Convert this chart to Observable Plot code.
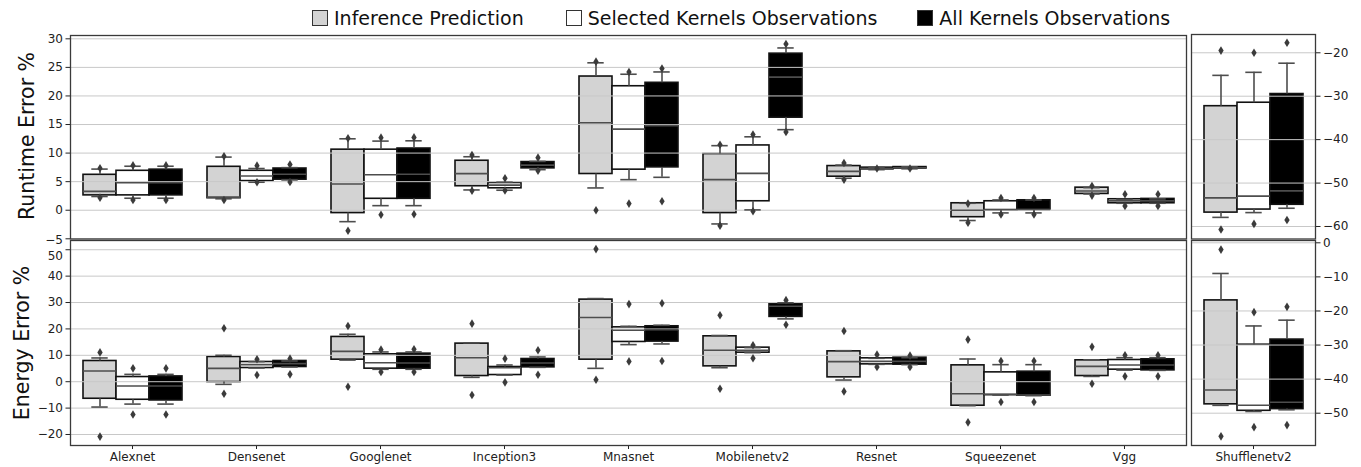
<!DOCTYPE html>
<html><head><meta charset="utf-8">
<script src="https://cdn.jsdelivr.net/npm/d3@7"></script>
<script src="https://cdn.jsdelivr.net/npm/@observablehq/plot@0.6"></script>
<style>
body{margin:0;background:#fff;}
#wrap{position:relative;width:1361px;height:467px;overflow:hidden;font-family:"DejaVu Sans",sans-serif;color:#222;}
.panel{position:absolute;}
.panel svg{display:block;max-width:none;overflow:visible;}
.ylab{position:absolute;font-size:20.5px;white-space:nowrap;transform:translate(-50%,-50%) rotate(-90deg);color:#111;}
#legend{position:absolute;left:312px;top:7px;display:flex;align-items:center;font-size:19px;color:#111;}
#legend .item{display:flex;align-items:center;}
#legend .sw{width:16px;height:16px;border:1px solid #333;box-sizing:border-box;margin-right:6px;}
</style></head>
<body>
<div id="wrap">
  <div id="legend"></div>
  <div class="ylab" style="left:27px;top:136px;">Runtime Error %</div>
  <div class="ylab" style="left:22px;top:343px;">Energy Error %</div>
</div>
<script>
const models = ["Alexnet","Densenet","Googlenet","Inception3","Mnasnet","Mobilenetv2","Resnet","Squeezenet","Vgg"];
const shuffleModel = ["Shufflenetv2"];
const series = ["Inference Prediction","Selected Kernels Observations","All Kernels Observations"];
const seriesColors = ["#d3d3d3","#ffffff","#000000"];

// each row: [whisker low, Q1, median, Q3, whisker high]
const runtimeInference = [[2.4,2.6,3.3,6.2,7.2],[2.0,2.1,2.3,7.6,9.3],[-2.0,-0.5,4.6,10.6,12.5],[3.55,4.2,6.4,8.66,9.36],[3.9,6.34,15.3,23.4,25.8],[-2.4,-0.5,5.35,9.83,11.3],[5.6,5.87,6.8,7.73,7.9],[-1.8,-1.22,0.0,1.22,1.22],[2.85,2.85,3.37,3.95,3.95]];
const runtimeSelected = [[2.1,2.6,4.8,6.9,7.7],[4.9,5.1,6.0,6.9,7.3],[0.8,2.0,6.2,10.6,12.1],[3.5,3.84,4.4,4.77,4.9],[5.35,7.1,14.2,21.7,23.8],[0.06,1.57,6.45,11.34,12.85],[7.1,7.15,7.3,7.45,7.5],[-0.47,0.0,0.12,1.57,1.8],[1.22,1.22,1.63,1.92,1.92]];
const runtimeAll = [[2.1,2.6,4.8,7.1,7.7],[5.3,5.35,6.3,7.3,7.45],[0.8,2.0,6.3,10.8,12.15],[7.1,7.33,7.9,8.43,8.55],[5.76,7.5,14.8,22.3,24.2],[14.1,16.2,23.3,27.4,28.4],[7.25,7.3,7.44,7.55,7.6],[-0.47,0.12,0.12,1.74,1.8],[1.22,1.22,1.63,1.98,1.98]];
const runtimeInferenceFliers = [[7.35,2.2],[9.45,1.8],[12.6,-3.6],[9.65,3.4],[26.0,0.0],[11.45,-2.7],[8.26,5.35],[1.16,-2.2],[4.24,2.56]];
const runtimeSelectedFliers = [[7.85,1.8],[7.8,4.9],[12.7,-0.8],[5.6,3.45],[24.2,1.16],[13.26,-0.17],[7.3],[2.15,-0.76],[2.8,0.76]];
const runtimeAllFliers = [[7.85,1.8],[8.0,4.95],[12.75,-0.7],[9.2,6.9],[24.8,1.57],[29.1,13.7],[7.3],[2.15,-0.76],[2.8,0.76]];

const energyInference = [[-9.6,-6.46,4.05,7.85,9.0],[-1.0,-0.13,5.06,9.37,10.0],[8.2,8.35,11.5,16.96,17.97],[1.65,2.15,9.1,14.43,14.7],[5.06,8.35,24.3,31.1,31.5],[5.3,5.82,11.9,17.2,17.5],[0.63,1.65,7.6,11.5,11.75],[-9.1,-9.1,-4.56,6.2,8.6],[2.0,2.15,5.82,8.1,8.3]];
const energySelected = [[-8.48,-6.84,-1.65,1.77,2.78],[5.19,5.19,6.46,7.47,7.6],[4.7,4.94,7.2,10.38,11.27],[2.53,2.53,5.3,5.57,6.33],[14.05,15.06,19.5,20.6,21.0],[11.0,11.0,11.9,12.9,12.9],[6.58,6.58,7.7,8.86,8.86],[-5.06,-5.06,-4.8,3.54,6.46],[4.4,4.56,6.33,8.23,9.1]];
const energyAll = [[-8.48,-7.1,-1.65,2.0,2.78],[5.57,5.57,6.84,7.85,7.85],[4.7,4.94,7.1,10.63,11.27],[5.44,5.44,7.1,8.6,9.37],[14.3,15.2,19.75,21.0,21.4],[23.8,24.56,28.6,29.4,29.9],[6.46,6.46,7.7,9.1,9.1],[-5.3,-5.3,-5.06,3.8,6.46],[4.3,4.3,6.33,8.48,9.1]];
const energyInferenceFliers = [[11.1,-20.8],[20.25,-4.56],[21.1,-1.9],[22.0,-5.06],[50.25,0.76],[25.2,-2.66],[19.2,-3.67],[15.95,-15.4],[13.2,-0.76]];
const energySelectedFliers = [[5.06,-12.4],[8.48,2.53],[12.15,3.67],[8.73,-0.25],[29.4,7.7],[13.8,8.86],[10.25,5.57],[7.85,-7.7],[10.0,2.03]];
const energyAllFliers = [[5.06,-12.4],[8.73,2.78],[12.3,3.67],[11.9,2.66],[29.75,7.85],[30.9,21.6],[9.87,5.57],[7.85,-7.7],[10.0,2.03]];

// Shufflenetv2 (own axis), one row per series
const shuffleRuntime = [[-57.9,-56.8,-53.4,-32.3,-25.2],[-56.8,-56.1,-53.0,-31.5,-24.5],[-55.8,-55.0,-51.8,-29.5,-22.4]];
const shuffleRuntimeFliers = [[-19.5,-60.7],[-20.0,-59.4],[-17.7,-58.5]];
const shuffleEnergy = [[-47.7,-47.4,-43.2,-16.9,-9.0],[-49.5,-49.3,-47.65,-29.9,-24.4],[-49.0,-48.8,-46.8,-28.4,-22.7]];
const shuffleEnergyFliers = [[-2.0,-56.8],[-20.35,-54.1],[-18.8,-53.5]];

const runtimeTicks = [-5,0,5,10,15,20,25,30];
const energyTicks = [-20,-10,0,10,20,30,40,50];
const shuffleRuntimeTicks = [-60,-50,-40,-30,-20];
const shuffleEnergyTicks = [-50,-40,-30,-20,-10,0];

function buildRows(cats, statsBySeries, fliersBySeries) {
  const rows = [], fl = [];
  series.forEach((s, si) => {
    cats.forEach((m, mi) => {
      const [lo,q1,med,q3,hi] = statsBySeries[si][mi];
      rows.push({model:m, series:s, lo, q1, med, q3, hi});
      (fliersBySeries[si][mi] || []).forEach(v => fl.push({model:m, series:s, v}));
    });
  });
  return {rows, fl};
}

const thinDiamond = {
  draw(ctx, size) {
    const r = Math.sqrt(size / Math.PI);
    const w = r * 0.62;
    ctx.moveTo(0, -r); ctx.lineTo(w, 0); ctx.lineTo(0, r); ctx.lineTo(-w, 0); ctx.closePath();
  }
};

function panel({cats, stats, fliers, yDomain, ticks, anchor, showFx, left, top, width, height, mt, mb, ml, mr, nudge}) {
  const {rows, fl} = buildRows(cats, stats, fliers);
  const wc = "#4d4d4d", lw = 1.6;
  const chart = Plot.plot({
    width, height,
    marginTop: mt, marginBottom: mb, marginLeft: ml, marginRight: mr,
    style: {fontFamily: "DejaVu Sans", fontSize: "12px", background: "transparent", color: "#222"},
    fx: {domain: cats, padding: 0, axis: showFx ? "bottom" : null, label: null, tickSize: 4, tickPadding: 3},
    x: {domain: series, paddingInner: 0, paddingOuter: 0.375, axis: null},
    y: {domain: yDomain, ticks, axis: anchor, label: null, tickSize: 4.5, tickPadding: 3},
    color: {domain: series, range: seriesColors},
    marks: [
      Plot.barY(rows, {fx: "model", x: "series", y1: "q1", y2: "q3", fill: "series", stroke: "#111", strokeWidth: lw}),
      Plot.ruleY(ticks, {stroke: "#c8c8c8", strokeWidth: 1}),
      Plot.ruleX(rows, {fx: "model", x: "series", y1: "q3", y2: "hi", stroke: wc, strokeWidth: lw}),
      Plot.ruleX(rows, {fx: "model", x: "series", y1: "lo", y2: "q1", stroke: wc, strokeWidth: lw}),
      Plot.tickY(rows, {fx: "model", x: "series", y: "hi", stroke: wc, strokeWidth: lw, insetLeft: 8.3, insetRight: 8.3}),
      Plot.tickY(rows, {fx: "model", x: "series", y: "lo", stroke: wc, strokeWidth: lw, insetLeft: 8.3, insetRight: 8.3}),
      Plot.tickY(rows, {fx: "model", x: "series", y: "med", stroke: wc, strokeWidth: lw}),
      Plot.dot(fl, {fx: "model", x: "series", y: "v", symbol: thinDiamond, r: 4.3, fill: "#3b3b3b", stroke: "none"}),
      Plot.frame({facet: "super", stroke: "#3a3a3a", strokeWidth: 1.3})
    ]
  });
  // keep the stacked "−5" / "50" tick labels at the panel join from colliding
  if (nudge) {
    d3.select(chart).selectAll("text").each(function() {
      if (this.textContent === nudge.label) this.setAttribute("dy", nudge.dy);
    });
  }
  const div = document.createElement("div");
  div.className = "panel";
  div.style.left = left + "px"; div.style.top = top + "px";
  div.appendChild(chart);
  document.getElementById("wrap").appendChild(div);
}

panel({cats: models, stats: [runtimeInference, runtimeSelected, runtimeAll], fliers: [runtimeInferenceFliers, runtimeSelectedFliers, runtimeAllFliers],
  yDomain: [-5.035, 30.58], ticks: runtimeTicks, anchor: "left", showFx: false,
  left: 0, top: 30, width: 1190, height: 210, mt: 5, mb: 1.5, ml: 70, mr: 4, nudge: {label: "−5", dy: "0.12em"}});
panel({cats: models, stats: [energyInference, energySelected, energyAll], fliers: [energyInferenceFliers, energySelectedFliers, energyAllFliers],
  yDomain: [-24.17, 53.5], ticks: energyTicks, anchor: "left", showFx: true,
  left: 0, top: 238, width: 1190, height: 229, mt: 2, mb: 22, ml: 70, mr: 4, nudge: {label: "50", dy: "0.5em"}});
panel({cats: shuffleModel, stats: shuffleRuntime.map(r => [r]), fliers: shuffleRuntimeFliers.map(f => [f]),
  yDomain: [-62.88, -15.79], ticks: shuffleRuntimeTicks, anchor: "right", showFx: false,
  left: 1186, top: 30, width: 175, height: 210, mt: 4, mb: 1.5, ml: 5, mr: 46});
panel({cats: shuffleModel, stats: shuffleEnergy.map(r => [r]), fliers: shuffleEnergyFliers.map(f => [f]),
  yDomain: [-59.48, 0.675], ticks: shuffleEnergyTicks, anchor: "right", showFx: true,
  left: 1186, top: 238, width: 175, height: 229, mt: 2, mb: 22, ml: 5, mr: 46});

const legend = document.getElementById("legend");
series.forEach((s, i) => {
  const it = document.createElement("div");
  it.className = "item";
  if (i > 0) it.style.marginLeft = (i === 1 ? 42 : 40) + "px";
  const sw = document.createElement("div");
  sw.className = "sw"; sw.style.background = seriesColors[i];
  const t = document.createElement("span"); t.textContent = s;
  it.appendChild(sw); it.appendChild(t);
  legend.appendChild(it);
});
</script>
</body></html>
